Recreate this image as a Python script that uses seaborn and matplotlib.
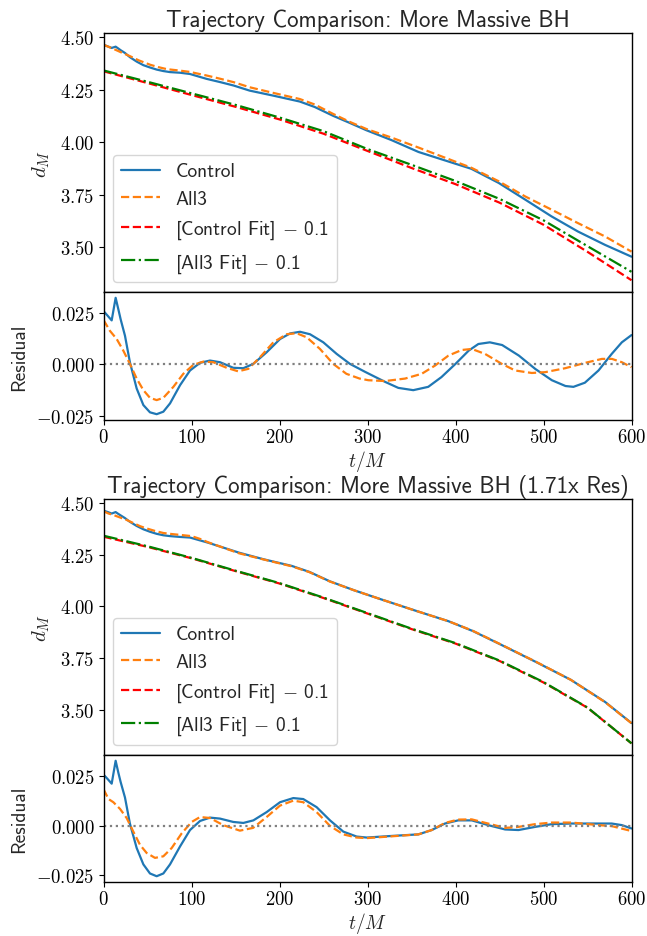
import numpy as np
import pandas as pd
import matplotlib
matplotlib.use("Agg")
import matplotlib.pyplot as plt
from matplotlib.ticker import FuncFormatter, FixedLocator
import seaborn as sns

# ---------------- data ----------------
# Panel 1: More Massive BH
t_ctrl1 = [0, 5, 9.3, 13.8, 16.9, 19.5, 24.4, 30, 37.7, 45.3, 52.8, 60.4, 68, 75.6, 87, 98.3,
           117, 133, 148, 166, 193, 223, 240, 261, 280, 299, 327, 358, 388, 418, 449, 479,
           509, 539, 570, 600]
d_ctrl1 = [4.463, 4.455, 4.448, 4.454, 4.445, 4.437, 4.424, 4.404, 4.383, 4.366, 4.355, 4.345,
           4.338, 4.333, 4.330, 4.324, 4.301, 4.285, 4.269, 4.245, 4.221, 4.193, 4.167, 4.125,
           4.091, 4.056, 4.010, 3.953, 3.913, 3.873, 3.806, 3.727, 3.647, 3.575, 3.511, 3.455]
t_all1 = [0, 10, 20, 30, 40, 53, 62, 72, 85, 98, 117, 133, 148, 166, 193, 223, 240, 261, 280,
          299, 327, 358, 388, 418, 449, 479, 509, 539, 570, 600]
d_all1 = [4.463, 4.446, 4.427, 4.409, 4.389, 4.368, 4.357, 4.347, 4.341, 4.334, 4.317, 4.301,
          4.285, 4.261, 4.234, 4.205, 4.179, 4.134, 4.096, 4.062, 4.022, 3.974, 3.926, 3.878,
          3.814, 3.742, 3.679, 3.615, 3.551, 3.479]
t_fit = [0, 50, 100, 150, 200, 250, 300, 350, 400, 450, 500, 550, 600]
fit_ctrl1 = [4.337, 4.281, 4.224, 4.168, 4.108, 4.040, 3.958, 3.877, 3.800, 3.712, 3.607, 3.478, 3.343]
fit_all1 = [4.341, 4.287, 4.232, 4.177, 4.117, 4.052, 3.967, 3.892, 3.815, 3.730, 3.628, 3.505, 3.383]

t_rc1 = [0, 4.4, 9.3, 13.8, 16.9, 19.5, 24.4, 30, 37.7, 45.3, 52.8, 60.4, 68, 75.6, 87, 98.3,
         109.7, 121, 132.4, 147.5, 158.9, 170.3, 185.4, 200.6, 212, 223.3, 234.7, 249.8, 265,
         280, 297, 320, 335, 352, 369, 384, 400, 415, 426, 439, 453, 472, 490.5, 509.5, 525,
         534, 547, 562.5, 577.5, 589, 600]
r_c1 = [0.0258, 0.0237, 0.0213, 0.0322, 0.0266, 0.0218, 0.0139, 0.0011, -0.0116, -0.0196,
        -0.0231, -0.0240, -0.0228, -0.0188, -0.0100, -0.0029, 0.0008, 0.0019, 0.0011, -0.0016,
        -0.0018, 0.0003, 0.0059, 0.0123, 0.0150, 0.0158, 0.0146, 0.0107, 0.0051, 0.0003,
        -0.0035, -0.0084, -0.0113, -0.0124, -0.0108, -0.0061, 0.0003, 0.0067, 0.0099, 0.0107,
        0.0094, 0.0043, -0.0021, -0.0076, -0.0104, -0.0108, -0.0088, -0.0029, 0.0051, 0.0107,
        0.0142]
t_ra1 = [0, 7.4, 15, 22.5, 30, 37.7, 45.3, 52.8, 60.4, 68, 79.4, 90.7, 102, 113.5, 124.8, 140,
         153, 164.6, 177.8, 193, 208, 219.5, 231, 246, 261, 276, 291, 301, 320, 342.7, 361.6,
         376.8, 392, 407, 418.5, 433.6, 452.6, 467.8, 486.7, 502, 524.6, 547.4, 566.4, 577.8,
         589, 600]
r_a1 = [0.0215, 0.0162, 0.0123, 0.0067, 0.0003, -0.0068, -0.0124, -0.0161, -0.0172, -0.0161,
        -0.0108, -0.0045, -0.0002, 0.0014, 0.0011, -0.0016, -0.0033, -0.0021, 0.0035, 0.0107,
        0.0146, 0.0151, 0.0131, 0.0075, 0.0003, -0.0045, -0.0068, -0.0076, -0.0080, -0.0068,
        -0.0045, -0.0005, 0.0043, 0.0070, 0.0075, 0.0051, 0.0003, -0.0029, -0.0041, -0.0037,
        -0.0018, 0.0008, 0.0027, 0.0027, 0.0011, -0.0013]

# Panel 2: More Massive BH (1.71x Res)
t_ctrl2 = [0, 5, 9.3, 13.8, 16.9, 19.5, 24.4, 30, 37.7, 45.3, 52.8, 60.4, 68, 75.6, 87, 98.3,
           119, 154, 182, 214, 234, 257, 285, 313, 353, 392, 420, 451, 491, 531, 570, 600]
d_ctrl2 = [4.462, 4.455, 4.448, 4.455, 4.446, 4.439, 4.426, 4.408, 4.388, 4.372, 4.360, 4.350,
           4.343, 4.339, 4.335, 4.332, 4.307, 4.259, 4.227, 4.195, 4.166, 4.121, 4.077, 4.037,
           3.981, 3.928, 3.880, 3.816, 3.732, 3.645, 3.538, 3.436]
t_all2 = [0, 5.7, 11.2, 18.8, 26.3, 33.9, 41.5, 49, 58.5, 68, 77.5, 88.8, 100, 110, 119, 154,
          182, 214, 234, 257, 285, 313, 353, 392, 420, 451, 491, 531, 570, 600]
d_all2 = [4.459, 4.448, 4.441, 4.429, 4.417, 4.402, 4.387, 4.376, 4.364, 4.354, 4.349, 4.344,
          4.339, 4.325, 4.309, 4.256, 4.226, 4.193, 4.165, 4.120, 4.077, 4.037, 3.981, 3.928,
          3.881, 3.817, 3.733, 3.645, 3.537, 3.435]
fit_ctrl2 = [4.336, 4.287, 4.232, 4.170, 4.110, 4.040, 3.965, 3.890, 3.820, 3.736, 3.632, 3.510, 3.338]
fit_all2 = [4.341, 4.290, 4.234, 4.172, 4.112, 4.042, 3.967, 3.892, 3.822, 3.738, 3.634, 3.511, 3.338]

t_rc2 = [0, 4.4, 9.3, 13.8, 16.9, 19.5, 24.4, 30, 37.7, 45.3, 52.8, 60.4, 68, 75.6, 87, 98.3,
         109.7, 121, 132.4, 147.5, 158.9, 170.3, 185.4, 200.6, 215.7, 227, 242.2, 257.4, 272.5,
         287.7, 299, 327, 357.8, 373, 388, 403, 418.5, 437, 456.4, 471.6, 490.5, 509.5, 532,
         562.5, 577.5, 589, 600]
r_c2 = [0.0258, 0.0237, 0.0212, 0.0328, 0.0267, 0.0220, 0.0142, 0.0010, -0.0114, -0.0197,
        -0.0243, -0.0257, -0.0243, -0.0197, -0.0106, -0.0023, 0.0023, 0.0040, 0.0035, 0.0018,
        0.0013, 0.0026, 0.0068, 0.0118, 0.0139, 0.0134, 0.0093, 0.0026, -0.0031, -0.0056,
        -0.0061, -0.0053, -0.0045, -0.0023, 0.0010, 0.0026, 0.0026, 0.0002, -0.0020, -0.0023,
        -0.0007, 0.0007, 0.0010, 0.0010, 0.0010, 0.0002, -0.0015]
t_ra2 = [0, 5.7, 11.2, 18.8, 26.3, 33.9, 41.5, 49, 58.5, 68, 77.5, 88.8, 100.2, 109.7, 121,
         136, 155, 170, 185.4, 200.6, 215.7, 227, 242.2, 257.4, 272.5, 287.7, 299, 327, 357.8,
         373, 388, 403, 418.5, 437, 456.4, 471.6, 490.5, 509.5, 532, 562.5, 577.5, 600]
r_a2 = [0.0184, 0.0134, 0.0118, 0.0084, 0.0038, -0.0031, -0.0098, -0.0139, -0.0164, -0.0156,
        -0.0114, -0.0040, 0.0018, 0.0043, 0.0038, 0.0002, -0.0026, -0.0012, 0.0043, 0.0101,
        0.0126, 0.0118, 0.0068, -0.0002, -0.0045, -0.0061, -0.0064, -0.0055, -0.0045, -0.0023,
        0.0013, 0.0030, 0.0031, 0.0010, -0.0012, -0.0007, 0.0007, 0.0015, 0.0015, 0.0002,
        -0.0003, -0.0028]

titles = ["Trajectory Comparison: More Massive BH",
          "Trajectory Comparison: More Massive BH (1.71x Res)"]
labels = ["Control", "All3", r"[Control Fit] $-$ 0.1", r"[All3 Fit] $-$ 0.1"]
main_yticks = [3.50, 3.75, 4.00, 4.25, 4.50]
res_yticks = [-0.025, 0.0, 0.025]
xticks = [0, 100, 200, 300, 400, 500, 600]

# ---------------- style ----------------
sns.set_style("ticks")
plt.rcParams["font.family"] = ["cmss10", "DejaVu Sans"]
plt.rcParams["mathtext.fontset"] = "cm"
plt.rcParams["axes.unicode_minus"] = False
plt.rcParams["axes.edgecolor"] = "black"
plt.rcParams["xtick.color"] = "black"
plt.rcParams["ytick.color"] = "black"
plt.rcParams["axes.linewidth"] = 1.0
plt.rcParams["xtick.direction"] = "out"
plt.rcParams["ytick.direction"] = "out"
plt.rcParams["xtick.major.size"] = 3.5
plt.rcParams["ytick.major.size"] = 3.5
plt.rcParams["xtick.major.pad"] = 2.5
plt.rcParams["ytick.major.pad"] = 3

TICK_FS = 13.5
LAB_FS = 15

def mfmt(dec):
    def f(v, pos):
        s = f"{v:.{dec}f}"
        return f"${s}$"
    return FuncFormatter(f)

fig = plt.figure(figsize=(6.47, 9.37), dpi=100)
W, H = 647.0, 937.0
left, right = 103.5, 631.5

def add(top, bottom):
    return fig.add_axes([left / W, 1 - bottom / H, (right - left) / W, (bottom - top) / H])

panels = [
    dict(main=(34, 293), res=(293, 421), title=titles[0],
         c=(t_ctrl1, d_ctrl1), a=(t_all1, d_all1), fc=fit_ctrl1, fa=fit_all1,
         rc=(t_rc1, r_c1), ra=(t_ra1, r_a1)),
    dict(main=(500, 756), res=(756, 883), title=titles[1],
         c=(t_ctrl2, d_ctrl2), a=(t_all2, d_all2), fc=fit_ctrl2, fa=fit_all2,
         rc=(t_rc2, r_c2), ra=(t_ra2, r_a2)),
]

for p in panels:
    ax = add(*p["main"])
    rax = add(*p["res"])

    df_c = pd.DataFrame({"t": p["c"][0], "d": p["c"][1]})
    df_a = pd.DataFrame({"t": p["a"][0], "d": p["a"][1]})
    df_fc = pd.DataFrame({"t": t_fit, "d": p["fc"]})
    df_fa = pd.DataFrame({"t": t_fit, "d": p["fa"]})

    sns.lineplot(data=df_c, x="t", y="d", ax=ax, color="#1f77b4", lw=1.6,
                 label=labels[0], sort=False, estimator=None)
    sns.lineplot(data=df_a, x="t", y="d", ax=ax, color="#ff7f0e", lw=1.6, linestyle="--",
                 label=labels[1], sort=False, estimator=None)
    sns.lineplot(data=df_fc, x="t", y="d", ax=ax, color="red", lw=1.6, linestyle="--",
                 label=labels[2], sort=False, estimator=None)
    sns.lineplot(data=df_fa, x="t", y="d", ax=ax, color="green", lw=1.6, linestyle="-.",
                 label=labels[3], sort=False, estimator=None)

    ax.set_xlim(0, 600)
    ax.set_xticks(xticks)
    ax.tick_params(axis="x", length=0, labelbottom=False)
    ax.yaxis.set_major_locator(FixedLocator(main_yticks))
    ax.yaxis.set_major_formatter(mfmt(2))
    ax.tick_params(axis="y", labelsize=TICK_FS)
    ax.set_xlabel("")
    ax.set_ylabel(r"$d_M$", fontsize=LAB_FS, labelpad=6)
    ax.set_title(p["title"], fontsize=16.5, pad=5)
    ax.legend(loc="lower left", fontsize=14, frameon=True, framealpha=0.8,
              edgecolor="#cccccc", fancybox=True)

    df_rc = pd.DataFrame({"t": p["rc"][0], "r": p["rc"][1]})
    df_ra = pd.DataFrame({"t": p["ra"][0], "r": p["ra"][1]})
    sns.lineplot(data=df_rc, x="t", y="r", ax=rax, color="#1f77b4", lw=1.6,
                 sort=False, estimator=None)
    sns.lineplot(data=df_ra, x="t", y="r", ax=rax, color="#ff7f0e", lw=1.6, linestyle="--",
                 sort=False, estimator=None)
    rax.axhline(0, color="gray", linestyle=":", lw=1.6)
    rax.set_xlim(0, 600)
    rax.set_xticks(xticks)
    rax.xaxis.set_major_formatter(mfmt(0))
    rax.yaxis.set_major_locator(FixedLocator(res_yticks))
    rax.yaxis.set_major_formatter(mfmt(3))
    rax.tick_params(labelsize=TICK_FS)
    rax.set_xlabel(r"$t/M$", fontsize=14, labelpad=1)
    rax.set_ylabel("Residual", fontsize=14, labelpad=6)

fig.savefig("out.png", dpi=100)
